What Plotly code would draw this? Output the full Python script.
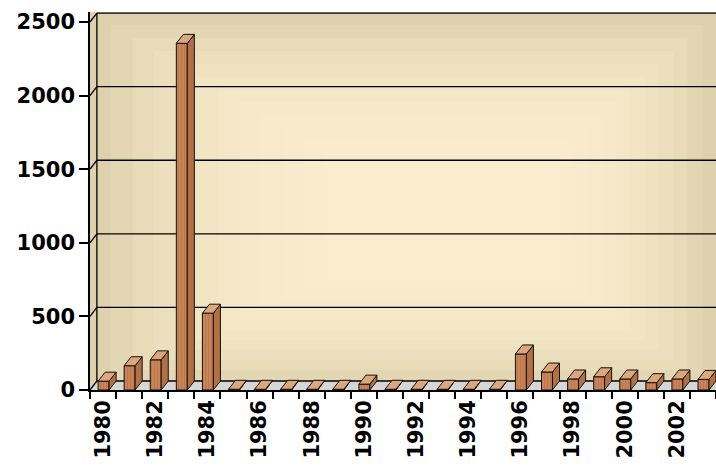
import plotly.graph_objects as go

years = list(range(1980, 2004))
values = [60, 165, 205, 2355, 522, 5, 5, 5, 5, 5, 40, 5, 5, 5, 5, 5,
          245, 122, 75, 90, 75, 50, 75, 72]
tick_years = list(range(1980, 2003, 2))
tick_labels = [str(y) for y in tick_years]
y_ticks = [0, 500, 1000, 1500, 2000, 2500]

# pseudo-3D geometry (style only)
depth = 61       # vertical depth offset in value units (~9 px)
dx = 0.27        # horizontal depth offset in categories (~7 px)
x0_off, x1_off = -0.19, 0.23   # front face extent around category centre
wall = 0.011     # back-wall offset in x-domain fraction

fig = go.Figure()

# front faces
fig.add_trace(go.Bar(
    x=years, y=values, width=x1_off - x0_off, offset=x0_off,
    marker=dict(color="#C98557", line=dict(color="#111", width=1),
                pattern=dict(shape="|", fgcolor="#A8673E", size=3, solidity=0.3)),
    hoverinfo="x+y",
))

# top and side faces built from the data
top_x, top_y, side_x, side_y = [], [], [], []
for yr, v in zip(years, values):
    a, b = yr + x0_off, yr + x1_off
    top_x += [a, b, b + dx, a + dx, a, None]
    top_y += [v, v, v + depth, v + depth, v, None]
    side_x += [b, b + dx, b + dx, b, b, None]
    side_y += [0, depth, v + depth, v, 0, None]

fig.add_trace(go.Scatter(x=side_x, y=side_y, mode="lines", fill="toself",
                         fillcolor="#B27044", line=dict(color="#111", width=1),
                         hoverinfo="skip"))
fig.add_trace(go.Scatter(x=top_x, y=top_y, mode="lines", fill="toself",
                         fillcolor="#DDA77C", line=dict(color="#111", width=1),
                         hoverinfo="skip"))

shapes = []
# background gradient (edges darker, centre lighter)
n = 12
for i in range(n):
    f = i / (2.2 * n)
    shapes.append(dict(type="rect", xref="x domain", yref="y domain",
                       x0=f * 0.9, x1=1 - f * 0.6, y0=f * 0.7, y1=1 - f * 0.9,
                       fillcolor="rgba(255,241,215,0.17)", line=dict(width=0),
                       layer="below"))
# floor
shapes.append(dict(type="path", xref="x domain", yref="y",
                   path=f"M 0 0 L 1 0 L 1 {depth} L {wall} {depth} Z",
                   fillcolor="#D6D6D6", line=dict(width=0), layer="below"))
# back-wall gridlines and diagonal joins
for v in y_ticks:
    shapes.append(dict(type="line", xref="x domain", yref="y", x0=wall, x1=1,
                       y0=v + depth, y1=v + depth, line=dict(color="black", width=1.3),
                       layer="below"))
    shapes.append(dict(type="line", xref="x domain", yref="y", x0=0, x1=wall,
                       y0=v, y1=v + depth, line=dict(color="black", width=1.3),
                       layer="below"))
shapes.append(dict(type="line", xref="x domain", yref="y", x0=wall, x1=wall,
                   y0=depth, y1=y_ticks[-1] + depth, line=dict(color="black", width=1.3),
                   layer="below"))

fig.update_layout(
    width=716, height=469,
    margin=dict(l=90, r=0, t=12, b=79),
    paper_bgcolor="white",
    plot_bgcolor="#D8CAA5",
    showlegend=False,
    shapes=shapes,
    font=dict(family="DejaVu Sans", size=21, color="black", weight="bold"),
)
fig.update_xaxes(
    range=[1979.5, 2003.5],
    tickmode="array", tickvals=tick_years, ticktext=tick_labels,
    tickangle=-90, ticks="outside", ticklen=0, tickcolor="black",
    minor=dict(tick0=1979.5, dtick=1, ticks="outside", ticklen=7, tickcolor="black", tickwidth=1.5),
    showline=True, linecolor="black", linewidth=1.5,
    showgrid=False, zeroline=False,
    tickfont=dict(family="DejaVu Sans", size=21, color="black", weight="bold"),
)
fig.update_yaxes(
    range=[0, 2568],
    tickvals=y_ticks, ticks="outside", ticklen=9, tickcolor="black", tickwidth=1.5,
    showline=True, linecolor="black", linewidth=1.5,
    showgrid=False, zeroline=False,
    tickfont=dict(family="DejaVu Sans", size=21, color="black", weight="bold"),
)

fig.write_html("out.html")
